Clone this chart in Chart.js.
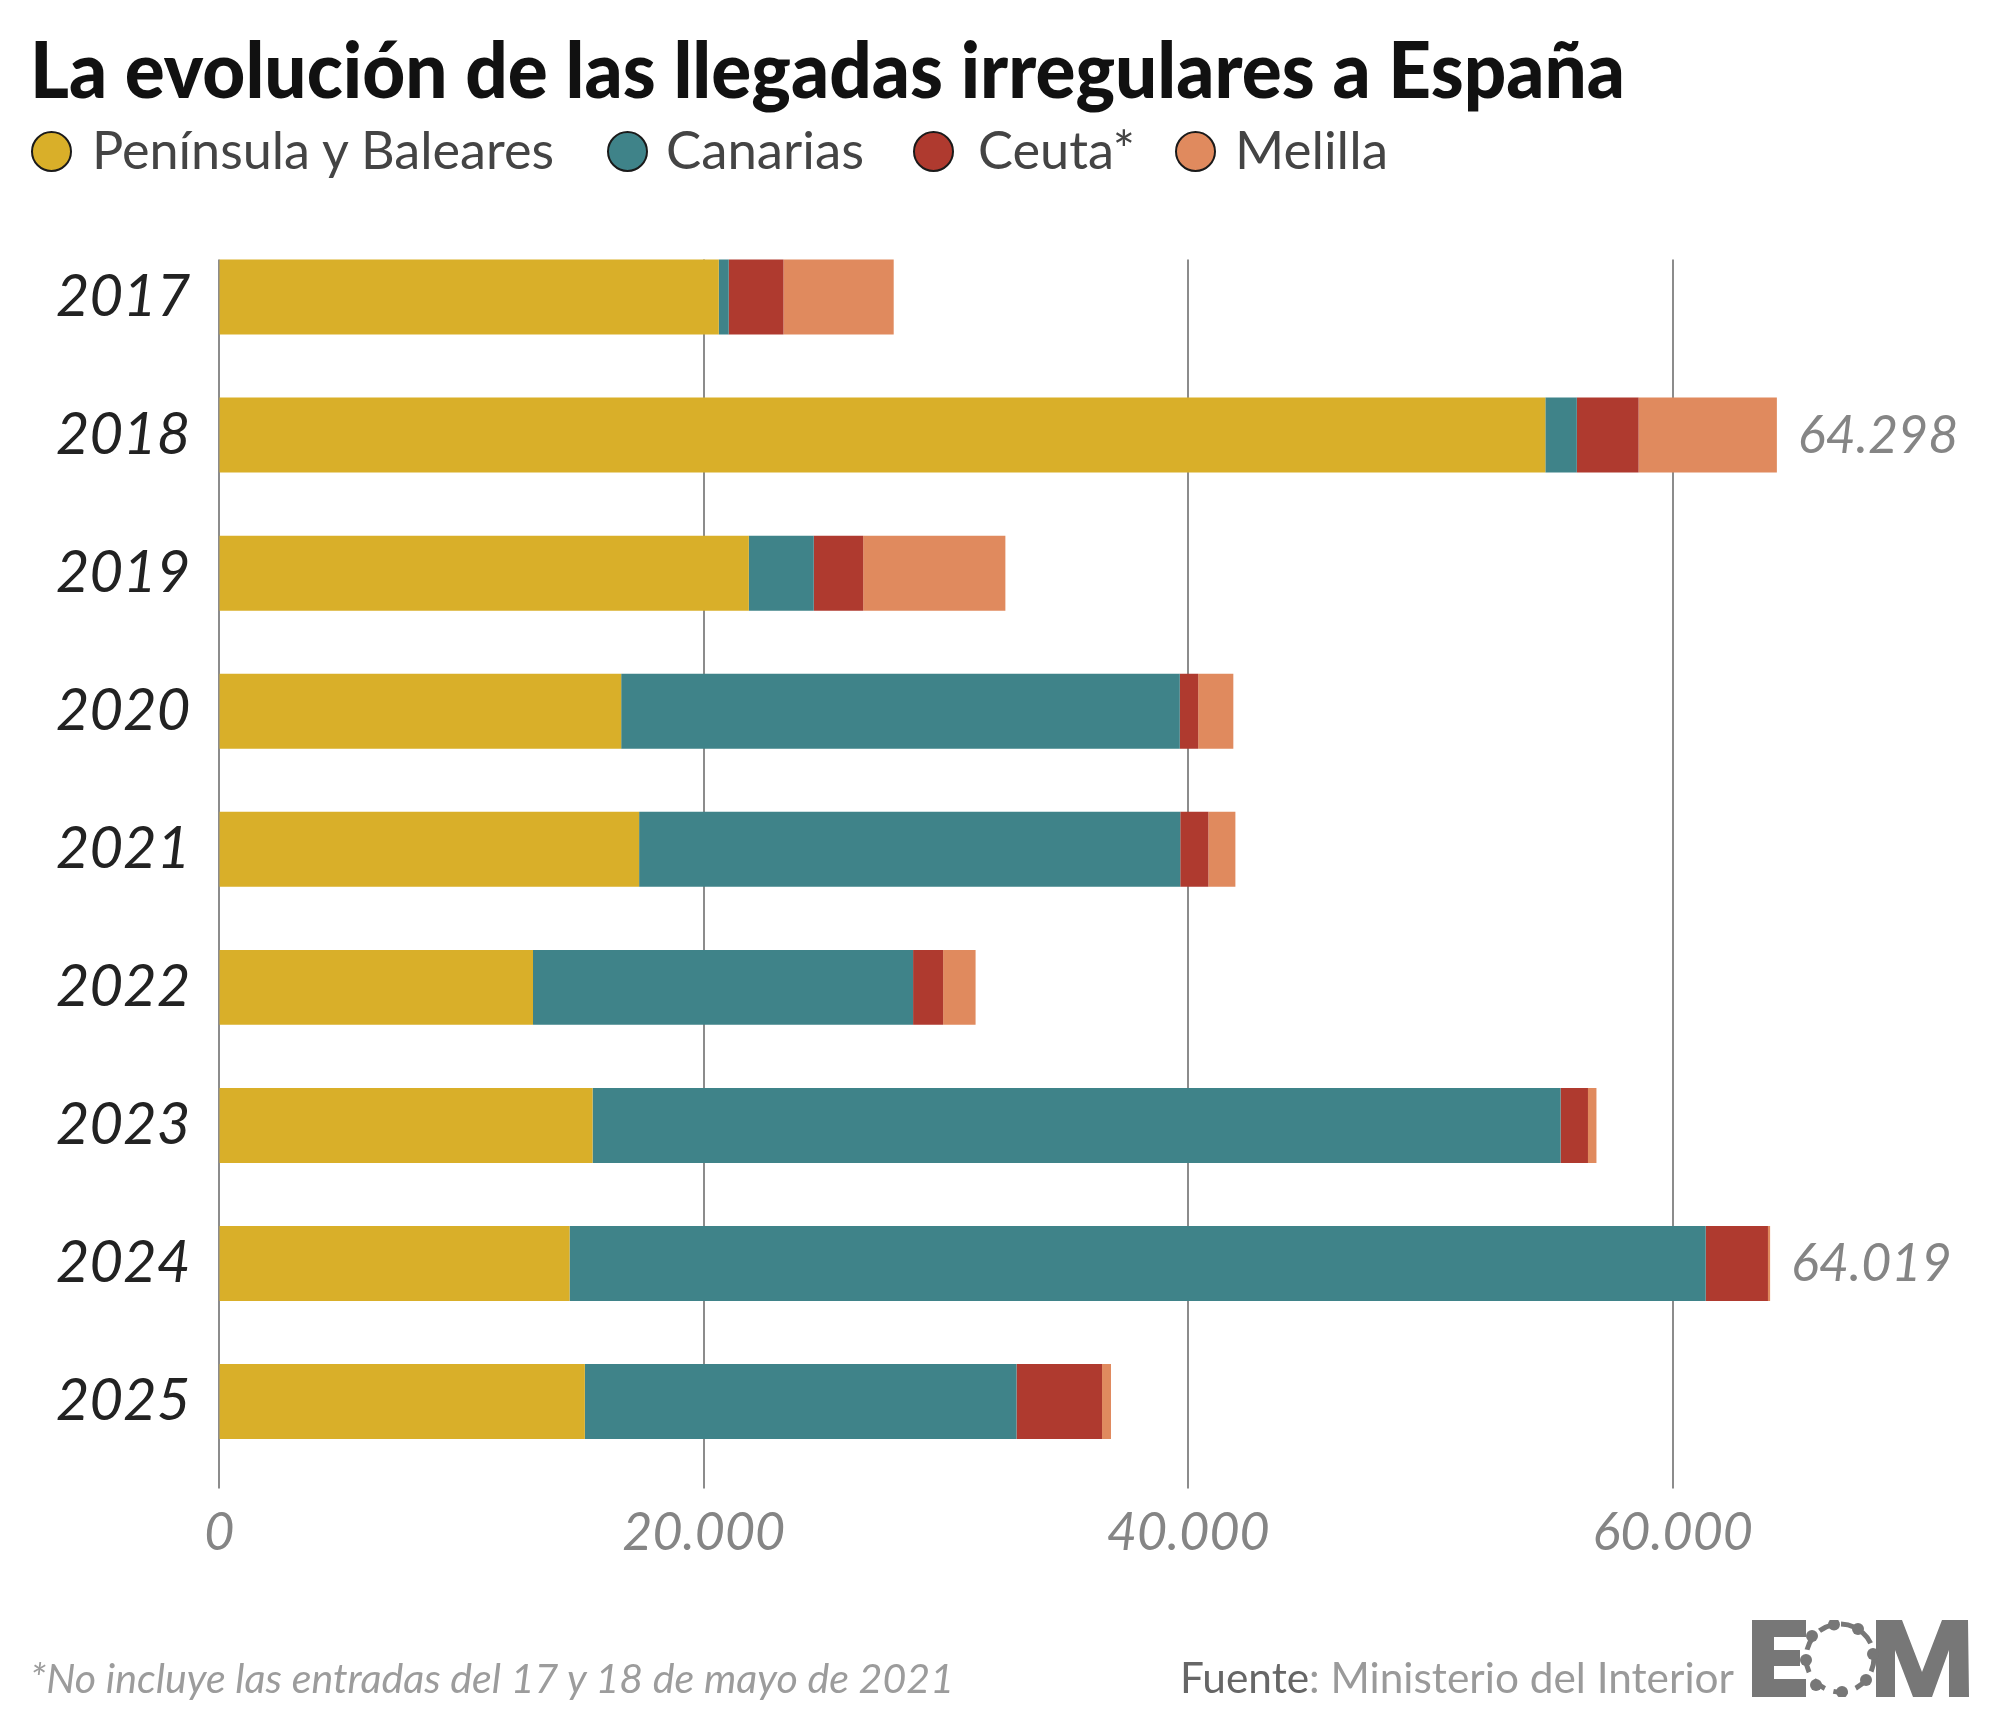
<!DOCTYPE html>
<html lang="es">
<head>
<meta charset="utf-8">
<script src="https://cdn.jsdelivr.net/npm/chart.js@4.4.1/dist/chart.umd.min.js"></script>
<style>
  html, body { margin: 0; padding: 0; background: #fff; }
  body { width: 2000px; height: 1729px; position: relative; overflow: hidden; font-family: Lato, "Open Sans", sans-serif; }
  #chart { position: absolute; left: 0; top: 0; }
  .txt { position: absolute; white-space: nowrap; line-height: 1; transform-origin: 0 0; }
  #title { left: 30px; top: 28.5px; font-size: 78px; font-weight: 900; color: #111; }
  .leg-dot { position: absolute; top: 131px; width: 37px; height: 37px; border: 2px solid #1a1a1a; border-radius: 50%; }
  .leg-txt { top: 123px; font-size: 52px; color: #444; }
  #note { left: 30px; top: 1657px; font-size: 41px; font-style: italic; font-weight: 400; color: #9c9c9c; }
  #source { left: 1180px; top: 1656px; font-size: 42px; color: #9a9a9a; }
  #source span { color: #666; }
  #logo { position: absolute; left: 1752px; top: 1620px; }
</style>
</head>
<body>
<canvas id="chart" width="2000" height="1729"></canvas>
<div id="title" class="txt">La evolución de las llegadas irregulares a España</div>
<div id="legend"></div>
<div id="note" class="txt">*No incluye las entradas del 17 y 18 de mayo de 2021</div>
<div id="source" class="txt"><span>Fuente</span>: Ministerio del Interior</div>
<svg id="logo" width="217" height="77" viewBox="0 0 217 77">
  <g fill="#777">
    <path d="M0 0 H54 V17 H22 V30 H48 V46 H22 V59 H54 V77 H0 Z"/>
    <path d="M124 0 H150 L170 52 L190 0 H216 L217 77 H197 V30 L180 77 H161 L143 30 V77 H124 Z"/>
  </g>
  <circle cx="88" cy="38" r="34" fill="none" stroke="#777" stroke-width="5" stroke-dasharray="14 9"/>
  <g fill="#777">
    <circle cx="82" cy="4.5" r="6"/>
    <circle cx="60" cy="16" r="6"/>
    <circle cx="54" cy="40" r="6"/>
    <circle cx="64" cy="65" r="6"/>
    <circle cx="90" cy="72" r="6"/>
    <circle cx="114" cy="60" r="6"/>
    <circle cx="121" cy="34" r="6"/>
    <circle cx="106" cy="9" r="6"/>
  </g>
</svg>
<script>
const years = ['2017', '2018', '2019', '2020', '2021', '2022', '2023', '2024', '2025'];
const peninsula = [20620, 54740, 21860, 16590, 17330, 12950, 15410, 14460, 15090];
const canarias = [410, 1300, 2680, 23060, 22340, 15690, 39960, 46900, 17820];
const ceuta = [2260, 2550, 2040, 760, 1160, 1240, 1130, 2570, 3530];
const melilla = [4550, 5708, 5870, 1450, 1115, 1340, 350, 89, 370];
const totalLabels = ['', '64.298', '', '', '', '', '', '64.019', ''];
const xTicks = [0, 20000, 40000, 60000];

const seriesNames = ['Península y Baleares', 'Canarias', 'Ceuta*', 'Melilla'];
const seriesColors = ['#D9AF29', '#3F8389', '#AF3A2F', '#E08A5E'];
const seriesData = [peninsula, canarias, ceuta, melilla];

// legend layout: dot centre x, text left x, text width (px)
const legendPos = [[51, 92, 462], [627, 666, 198], [933, 978, 157], [1195, 1235, 153]];

function fmt(v) {
    return String(v).replace(/\B(?=(\d{3})+(?!\d))/g, '.');
}

function fitWidth(el, w) {
    let r = el.getBoundingClientRect().width;
    if (r) el.style.transform = `scaleX(${w / r})`;
}

// legend
let legend = document.getElementById('legend');
seriesNames.forEach((name, i) => {
    let dot = document.createElement('div');
    dot.className = 'leg-dot';
    dot.style.left = (legendPos[i][0] - 20.5) + 'px';
    dot.style.background = seriesColors[i];
    legend.appendChild(dot);
    let t = document.createElement('div');
    t.className = 'txt leg-txt';
    t.style.left = legendPos[i][1] + 'px';
    t.textContent = name;
    legend.appendChild(t);
    fitWidth(t, legendPos[i][2]);
});
fitWidth(document.getElementById('title'), 1595);
fitWidth(document.getElementById('note'), 924);
fitWidth(document.getElementById('source'), 554);

// vertical grid lines from the first bar top down below the plot
const gridLines = {
    id: 'gridLines',
    beforeDatasetsDraw(chart) {
        let ctx = chart.ctx;
        let xs = chart.scales.x;
        let first = chart.getDatasetMeta(0).data[0];
        let top = first.y - first.height / 2;
        let bottom = chart.chartArea.bottom + 18;
        ctx.save();
        ctx.strokeStyle = '#8c8c8c';
        ctx.lineWidth = 2;
        xTicks.forEach(v => {
            let px = Math.round(xs.getPixelForValue(v));
            ctx.beginPath();
            ctx.moveTo(px, top);
            ctx.lineTo(px, bottom);
            ctx.stroke();
        });
        ctx.restore();
    }
};

// totals at the end of some bars
const totals = {
    id: 'totals',
    afterDatasetsDraw(chart) {
        let ctx = chart.ctx;
        let meta = chart.getDatasetMeta(seriesData.length - 1);
        ctx.save();
        ctx.font = 'italic 400 52px Lato';
        ctx.fillStyle = '#858585';
        ctx.textBaseline = 'middle';
        ctx.textAlign = 'left';
        totalLabels.forEach((lab, i) => {
            if (!lab) return;
            let el = meta.data[i];
            ctx.fillText(lab, el.x + 21, el.y + 1);
        });
        ctx.restore();
    }
};

new Chart(document.getElementById('chart'), {
    type: 'bar',
    data: {
        labels: years,
        datasets: seriesNames.map((name, i) => ({
            label: name,
            data: seriesData[i],
            backgroundColor: seriesColors[i],
            borderWidth: 0,
            barPercentage: 0.543,
            categoryPercentage: 1
        }))
    },
    options: {
        indexAxis: 'y',
        responsive: false,
        animation: false,
        devicePixelRatio: 1,
        layout: { padding: { top: 228, right: 85, bottom: 0, left: 0 } },
        plugins: { legend: { display: false }, tooltip: { enabled: false } },
        scales: {
            x: {
                stacked: true,
                min: 0,
                max: 70000,
                afterBuildTicks: axis => { axis.ticks = xTicks.map(v => ({ value: v })); },
                afterFit: axis => { axis.height = 258.4; },
                grid: { display: false, drawTicks: false },
                border: { display: false },
                ticks: {
                    padding: 31,
                    maxRotation: 0,
                    autoSkip: false,
                    color: '#858585',
                    font: { family: 'Lato', size: 52, style: 'italic', weight: 400 },
                    callback: v => fmt(v)
                }
            },
            y: {
                stacked: true,
                afterFit: axis => { axis.width = 219.3; },
                grid: { display: false, drawTicks: false },
                border: { display: false },
                ticks: {
                    padding: 29,
                    color: '#222',
                    font: { family: 'Lato', size: 58, style: 'italic' }
                }
            }
        }
    },
    plugins: [gridLines, totals]
});
</script>
</body>
</html>
